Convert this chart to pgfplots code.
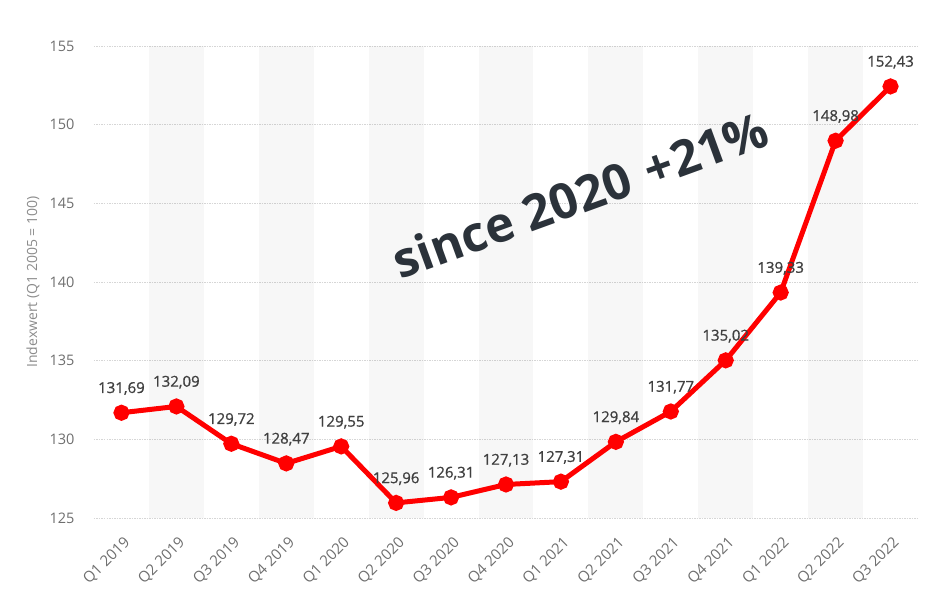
\documentclass[border=0pt]{standalone}
\usepackage{pgfplots}
\pgfplotsset{compat=1.18}
\usepackage{fontspec}
\setmainfont{Open Sans}
\newfontfamily\semibold{Open Sans}[FakeBold=0.9]
\definecolor{tickgray}{HTML}{6E6E6E}
\definecolor{labelgray}{HTML}{8C8C8C}
\definecolor{datagray}{HTML}{404040}
\definecolor{bigtext}{HTML}{2B323A}
\definecolor{gridgray}{HTML}{D6D6D6}
\begin{document}
\begin{tikzpicture}
\path[use as bounding box] (0,0) rectangle (927pt,589pt);
\begin{axis}[
  at={(94pt,71pt)}, anchor=south west,
  scale only axis, width=824pt, height=472pt,
  xmin=-0.5, xmax=14.5, ymin=125, ymax=155,
  xtick={0,...,14},
  xticklabels={Q1 2019,Q2 2019,Q3 2019,Q4 2019,Q1 2020,Q2 2020,Q3 2020,Q4 2020,Q1 2021,Q2 2021,Q3 2021,Q4 2021,Q1 2022,Q2 2022,Q3 2022},
  ytick={125,130,...,155},
  axis line style={draw=none},
  major tick length=0pt,
  ymajorgrids,
  major grid style={gridgray, line width=0.8pt, dash pattern=on 1.5pt off 1pt},
  /pgf/number format/assume math mode=true,
  yticklabel style={font=\fontsize{14.5}{16}\selectfont, text=tickgray, xshift=-16pt},
  xticklabel style={font=\fontsize{15}{17}\selectfont, text=tickgray, rotate=45, anchor=north east, xshift=-8pt, yshift=-10pt},
  ylabel={Indexwert (Q1 2005 = 100)},
  ylabel style={font=\fontsize{14}{16}\selectfont, text=labelgray, at={(axis description cs:-0.074,0.5)}, anchor=center},
  nodes near coords,
  nodes near coords style={font=\semibold\fontsize{15}{17}\selectfont, text=datagray, anchor=south, yshift=12pt,
    /pgf/number format/.cd, fixed, fixed zerofill, precision=2, use comma, 1000 sep={}},
]
\fill[black, fill opacity=0.03] (axis cs:0.5,125) rectangle (axis cs:1.5,155);
\fill[black, fill opacity=0.03] (axis cs:2.5,125) rectangle (axis cs:3.5,155);
\fill[black, fill opacity=0.03] (axis cs:4.5,125) rectangle (axis cs:5.5,155);
\fill[black, fill opacity=0.03] (axis cs:6.5,125) rectangle (axis cs:7.5,155);
\fill[black, fill opacity=0.03] (axis cs:8.5,125) rectangle (axis cs:9.5,155);
\fill[black, fill opacity=0.03] (axis cs:10.5,125) rectangle (axis cs:11.5,155);
\fill[black, fill opacity=0.03] (axis cs:12.5,125) rectangle (axis cs:13.5,155);
\addplot[red, line width=5pt, mark=*, mark size=5.5pt, mark options={fill=red, draw=none}] coordinates {
(0,131.69) (1,132.09) (2,129.72) (3,128.47) (4,129.55) (5,125.96) (6,126.31) (7,127.13) (8,127.31) (9,129.84) (10,131.77) (11,135.02) (12,139.33) (13,148.98) (14,152.43)
};
\node[rotate=20, font=\bfseries\fontsize{49}{51}\selectfont, text=bigtext] at (axis cs:8.35,145.55) {since 2020\hspace{0.35em}+21\%};
\end{axis}
\end{tikzpicture}
\end{document}
